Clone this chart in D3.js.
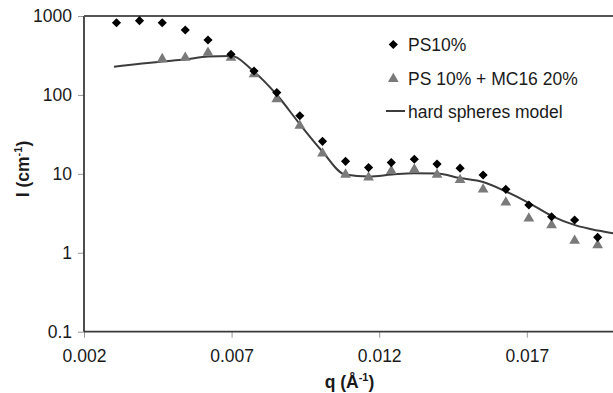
<!DOCTYPE html>
<html><head><meta charset="utf-8">
<script src="https://cdn.jsdelivr.net/npm/d3@7"></script>
<style>
body{margin:0;background:#fff;}
svg{display:block;font-family:"Liberation Sans",Arial,sans-serif;}
</style></head>
<body><svg id="c" width="613" height="393"></svg>
<script>
const qPS = [0.00310,0.00388,0.00465,0.00543,0.00620,0.00698,0.00776,0.00853,0.00931,0.01008,0.01086,0.01164,0.01241,0.01319,0.01396,0.01474,0.01552,0.01629,0.01707,0.01784,0.01862,0.01940];
const iPS = [822,872,822,665,497,327,201,107,54.5,25.8,14.4,12.0,13.9,15.3,13.3,11.8,9.66,6.36,4.03,2.86,2.60,1.57];
const qMix = [0.00465,0.00543,0.00620,0.00698,0.00776,0.00853,0.00931,0.01008,0.01086,0.01164,0.01241,0.01319,0.01396,0.01474,0.01552,0.01629,0.01707,0.01784,0.01862,0.01940];
const iMix = [285,296,343,296,184,88.7,40.7,18.1,9.8,9.03,10.9,11.4,9.74,8.39,6.36,4.35,2.73,2.24,1.42,1.25];
const qModel = [0.003016,0.004642,0.005421,0.006201,0.006980,0.007759,0.008538,0.009283,0.010062,0.010841,0.011654,0.012434,0.013179,0.013958,0.014737,0.015516,0.016295,0.017075,0.017854,0.018633,0.019412,0.020200];
const iModel = [228,265,281,307,311,197,99.7,44.0,19.5,9.8,9.24,9.8,10.2,10.1,8.85,7.87,5.97,4.27,2.92,2.24,1.91,1.70];
const xTicks = [0.002,0.007,0.012,0.017];
const xTickLabels = ["0.002","0.007","0.012","0.017"];
const yTicks = [0.1,1,10,100,1000];
const yTickLabels = ["0.1","1","10","100","1000"];
const legendLabels = ["PS10%","PS 10% + MC16 20%","hard spheres model"];

const svg = d3.select("#c");
const x = d3.scaleLinear().domain([0.002,0.022]).range([84,84+0.020*29520]);
const y = d3.scaleLog().domain([0.1,1000]).range([331.7,16]);

const axisCol = "#3a3a3a", tickCol = "#999";

// x axis
const gx = svg.append("g").attr("transform","translate(0,331.7)")
  .call(d3.axisBottom(x).tickValues(xTicks).tickSize(6).tickSizeOuter(0)
    .tickFormat((d,i)=>xTickLabels[i]));
gx.select(".domain").remove();
gx.selectAll(".tick line").attr("stroke",tickCol).attr("y1",0);
gx.selectAll(".tick text").attr("font-size","17.5px").attr("fill","#1a1a1a").attr("y",18).attr("dy","0.71em");

// y axis
const gy = svg.append("g").attr("transform","translate(84,0)")
  .call(d3.axisLeft(y).tickValues(yTicks).tickSize(6).tickSizeOuter(0)
    .tickFormat((d,i)=>yTickLabels[i]));
gy.select(".domain").remove();
gy.selectAll(".tick line").attr("stroke",tickCol);
gy.selectAll(".tick text").attr("font-size","17.5px").attr("fill","#1a1a1a").attr("x",-12);

// frame lines
svg.append("line").attr("x1",84).attr("x2",84).attr("y1",16).attr("y2",331.7).attr("stroke",axisCol).attr("stroke-width",1.8);
svg.append("line").attr("x1",84).attr("x2",613).attr("y1",331.7).attr("y2",331.7).attr("stroke",axisCol).attr("stroke-width",1.8);
svg.append("line").attr("x1",84).attr("x2",613).attr("y1",16).attr("y2",16).attr("stroke","#555").attr("stroke-width",1.8);

// model line
const line = d3.line().x((d,i)=>x(qModel[i])).y((d,i)=>y(iModel[i])).curve(d3.curveMonotoneX);
svg.append("path").datum(iModel).attr("d",line).attr("fill","none").attr("stroke","#3c3c3c").attr("stroke-width",2);

const diamond = d3.symbol().type(d3.symbolSquare).size(42);
const tri = d3.symbol().type(d3.symbolTriangle).size(50);

svg.append("g").selectAll("path").data(iMix).join("path")
  .attr("d",tri).attr("fill","#7a7a7a")
  .attr("transform",(d,i)=>`translate(${x(qMix[i])},${y(d)})`);

svg.append("g").selectAll("path").data(iPS).join("path")
  .attr("d",diamond).attr("fill","#000")
  .attr("transform",(d,i)=>`translate(${x(qPS[i])},${y(d)}) rotate(45)`);

// legend
const lg = svg.append("g");
lg.append("path").attr("d",diamond).attr("fill","#000").attr("transform","translate(393.3,44.5) rotate(45)");
lg.append("path").attr("d",tri).attr("fill","#7a7a7a").attr("transform","translate(393.3,79)");
lg.append("line").attr("x1",386).attr("x2",405).attr("y1",111).attr("y2",111).attr("stroke","#3c3c3c").attr("stroke-width",2);
[45,79,111.5].forEach((yy,i)=>{
  lg.append("text").attr("x",408).attr("y",yy).attr("dy","0.36em").attr("font-size","17.5px").attr("fill","#1a1a1a").text(legendLabels[i]);
});

// axis titles
const xt = svg.append("text").attr("x",349.5).attr("y",388).attr("text-anchor","middle")
  .attr("font-size","17.5px").attr("font-weight","bold").attr("fill","#1a1a1a");
xt.append("tspan").text("q (Å");
xt.append("tspan").attr("dy",-7).attr("font-size","11px").text("-1");
xt.append("tspan").attr("dy",7).text(")");

const yt = svg.append("text").attr("transform","translate(29,169) rotate(-90)").attr("text-anchor","middle")
  .attr("font-size","17.5px").attr("font-weight","bold").attr("fill","#1a1a1a");
yt.append("tspan").text("I (cm");
yt.append("tspan").attr("dy",-7).attr("font-size","11px").text("-1");
yt.append("tspan").attr("dy",7).text(")");
</script></body></html>
